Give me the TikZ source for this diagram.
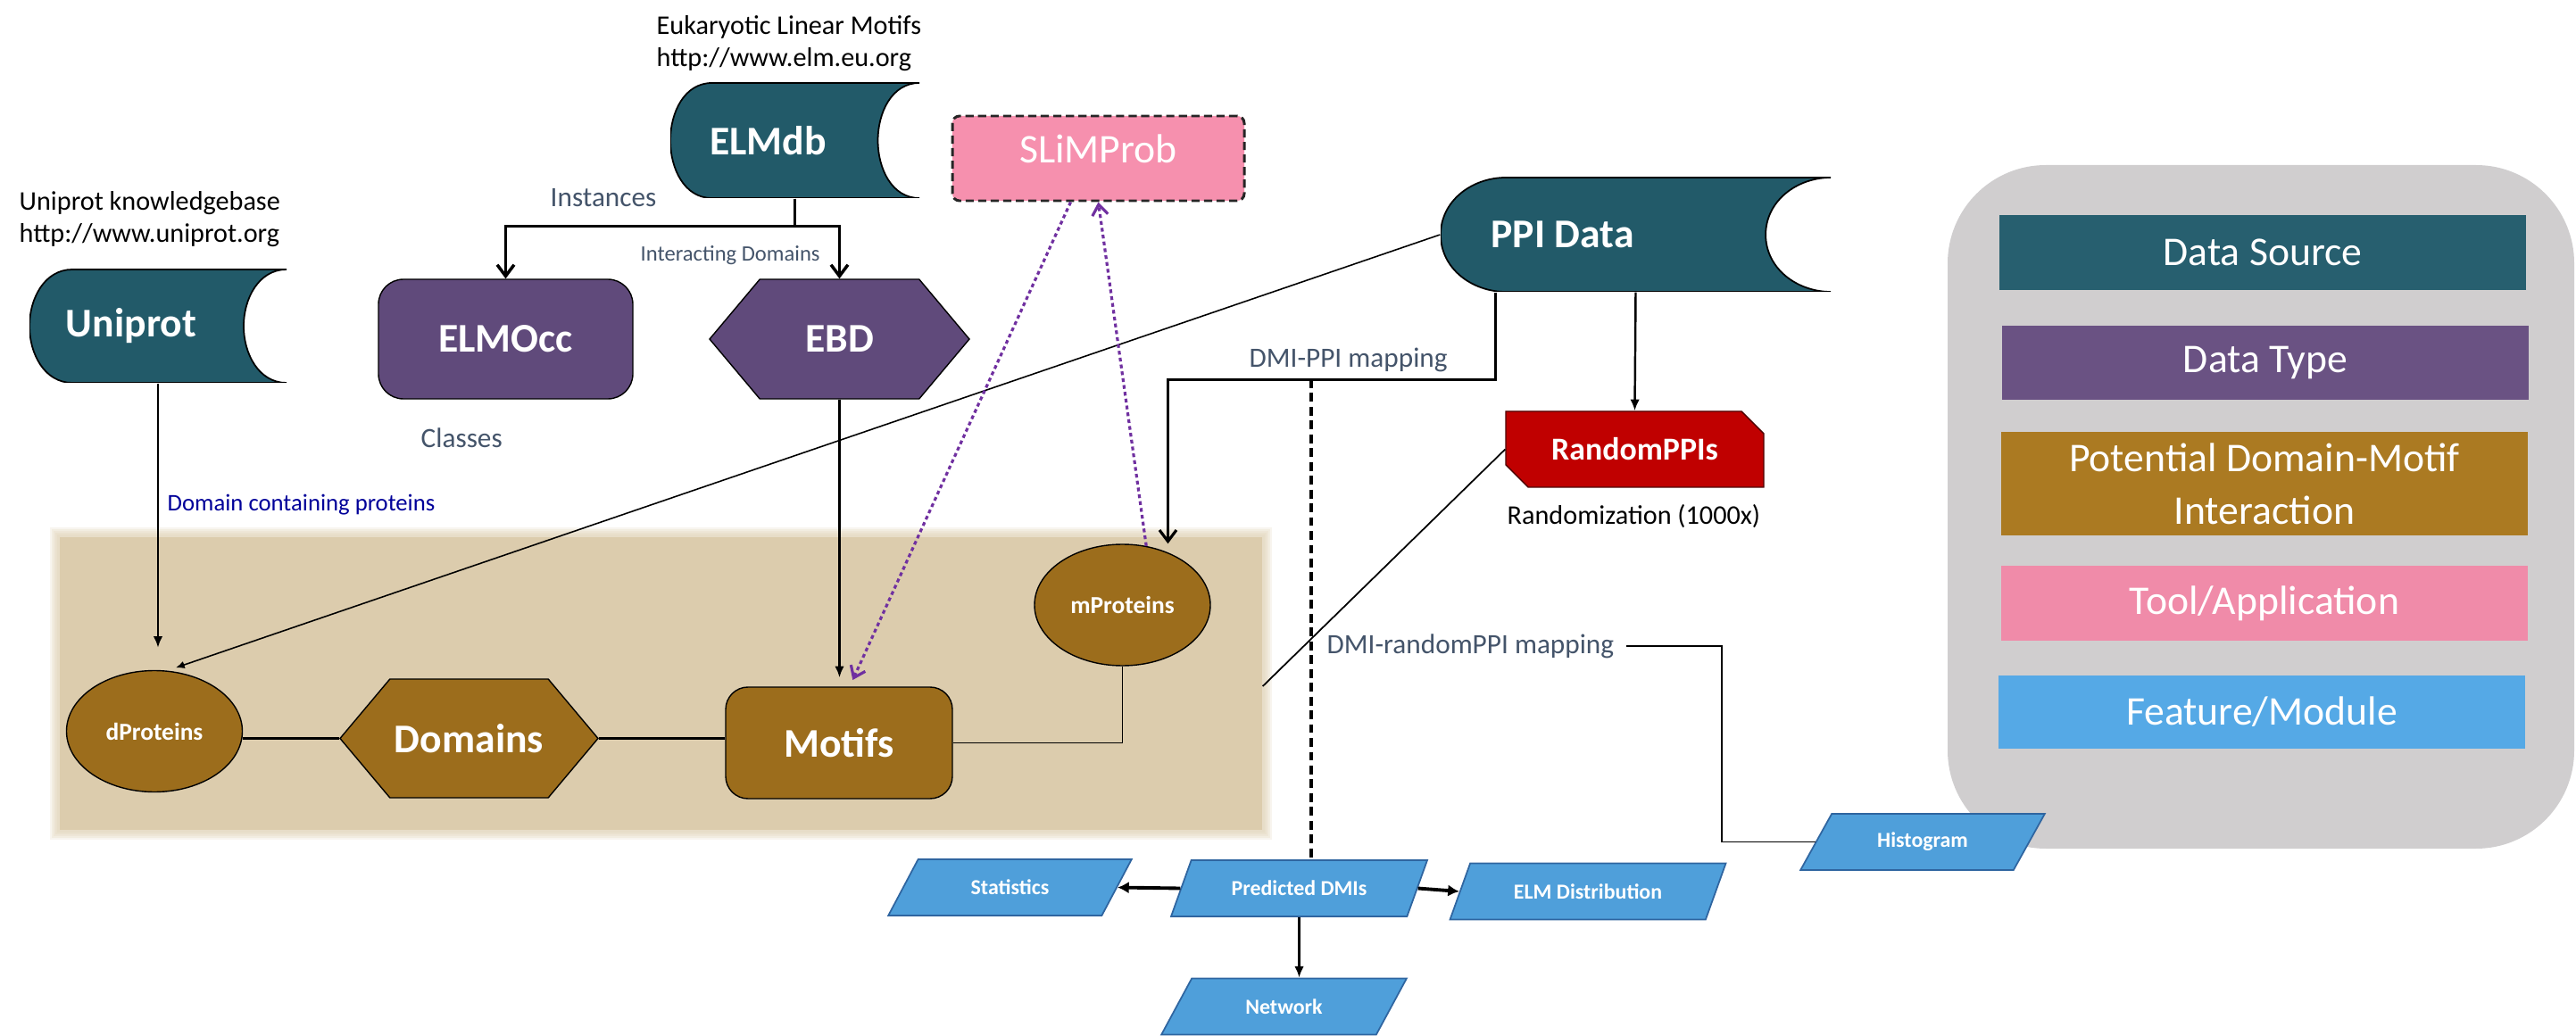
\documentclass[tikz,border=0pt]{standalone}
\usepackage{fontspec}
\setmainfont{Carlito}
\usetikzlibrary{arrows.meta,calc,shapes.geometric,shapes.misc,shapes.symbols}

\definecolor{srcteal}{HTML}{225A69}
\definecolor{typepurple}{HTML}{604A7B}
\definecolor{dmibrown}{HTML}{9C6D1C}
\definecolor{dmibeige}{HTML}{DCCCAD}
\definecolor{toolpink}{HTML}{F690AE}
\definecolor{featblue}{HTML}{4F9FDA}
\definecolor{featedge}{HTML}{2F65A0}
\definecolor{rndred}{HTML}{C00000}
\definecolor{notegray}{HTML}{44546A}
\definecolor{navytext}{HTML}{000099}
\definecolor{slimline}{HTML}{7030A0}
\definecolor{legendgray}{HTML}{D0CECF}
\definecolor{keyteal}{HTML}{275F6F}
\definecolor{keypurple}{HTML}{6A5283}
\definecolor{keybrown}{HTML}{AB7A22}
\definecolor{keypink}{HTML}{F08BA9}
\definecolor{keyblue}{HTML}{55A9E6}

\newcommand{\setfs}[2]{\fontsize{#1}{#2}\selectfont}
\newcommand{\ppbb}{path picture bounding box}

\tikzstyle{datasrc}=[rectangle, inner sep=0pt, path picture={
    \path[fill=srcteal, draw=black, line width=0.5pt]
      ($(\ppbb.north west)!0.1667!(\ppbb.north east)$) -- (\ppbb.north east)
      to[out=180,in=90] ($(\ppbb.east)!0.1667!(\ppbb.west)$)
      to[out=-90,in=180] (\ppbb.south east)
      -- ($(\ppbb.south west)!0.1667!(\ppbb.south east)$)
      to[out=180,in=-90] (\ppbb.west)
      to[out=90,in=180] ($(\ppbb.north west)!0.1667!(\ppbb.north east)$) -- cycle;}]
\tikzstyle{srctext}=[text=white, font=\bfseries\setfs{13}{15.6}]
\tikzstyle{dtypebox}=[rectangle, rounded corners=0.28cm, fill=typepurple, draw=black, line width=0.4pt,
    text=white, font=\bfseries\setfs{13}{15.6}, minimum width=2.85cm, minimum height=1.34cm, inner sep=0pt]
\tikzstyle{dtypehex}=[signal, signal to=west and east, signal pointer angle=100, fill=typepurple, draw=black,
    line width=0.4pt, text=white, font=\bfseries\setfs{13}{15.6}, minimum width=2.91cm, minimum height=1.34cm, inner sep=0pt]
\tikzstyle{pdmibox}=[rectangle, rounded corners=0.25cm, fill=dmibrown, draw=black, line width=0.4pt,
    text=white, font=\bfseries\setfs{13}{15.6}, minimum width=2.54cm, minimum height=1.25cm, inner sep=0pt]
\tikzstyle{pdmihex}=[signal, signal to=west and east, signal pointer angle=100, fill=dmibrown, draw=black,
    line width=0.4pt, text=white, font=\bfseries\setfs{13}{15.6}, minimum width=2.89cm, minimum height=1.33cm, inner sep=0pt]
\tikzstyle{pdmiell}=[ellipse, fill=dmibrown, draw=black, line width=0.4pt, text=white,
    font=\bfseries\setfs{7.8}{9.4}, minimum width=1.97cm, minimum height=1.36cm, inner sep=0pt]
\tikzstyle{toolbox}=[rectangle, rounded corners=0.08cm, fill=toolpink, draw=black!85, line width=0.85pt,
    dash pattern=on 2.6pt off 1.4pt, text=white, font=\setfs{13}{15.6}, minimum width=3.27cm,
    minimum height=0.95cm, text depth=0.22cm, inner sep=0pt]
\tikzstyle{rndbox}=[chamfered rectangle, chamfered rectangle corners={north east,south west},
    chamfered rectangle xsep=0.1cm, chamfered rectangle ysep=0.15cm, fill=rndred, draw=black!60!rndred,
    line width=0.4pt, text=white, font=\bfseries\setfs{10.2}{12}, minimum width=2.89cm,
    minimum height=0.85cm, inner sep=0pt]
\tikzstyle{featbox}=[trapezium, trapezium left angle=50, trapezium right angle=130, trapezium stretches=true,
    fill=featblue, draw=featedge, line width=0.5pt, text=white, font=\bfseries\setfs{6.8}{8},
    minimum height=0.63cm, inner sep=0pt]
\tikzstyle{keybar}=[rectangle, minimum width=5.9cm, inner sep=0pt, text=white, font=\setfs{13}{16.8}, align=center]
\tikzstyle{note}=[inner sep=0pt, anchor=base west, align=left]
\tikzstyle{barbtip}=[-{Straight Barb[length=3.6pt,width=5.4pt]}]
\tikzstyle{filltip}=[-{Latex[length=3.6pt,width=3pt]}]
\tikzstyle{slimarrow}=[slimline, line width=0.9pt, dash pattern=on 1.2pt off 1pt,
    -{Straight Barb[length=3.4pt,width=5pt]}]

\begin{document}
\begin{tikzpicture}
\useasboundingbox (0,0) rectangle (28.86,-11.61);

% legend
\node[rectangle, rounded corners=1.1cm, fill=legendgray, minimum width=7.02cm, minimum height=7.66cm] (legend) at (25.33,-5.68) {};
\node[keybar, fill=keyteal, minimum height=0.84cm] (keysrc) at (25.35,-2.83) {Data Source};
\node[keybar, fill=keypurple, minimum height=0.83cm] (keytype) at (25.38,-4.065) {Data Type};
\node[keybar, fill=keybrown, minimum height=1.16cm] (keypdmi) at (25.37,-5.42) {Potential Domain-Motif\\Interaction};
\node[keybar, fill=keypink, minimum height=0.84cm] (keytool) at (25.37,-6.76) {Tool/Application};
\node[keybar, fill=keyblue, minimum height=0.82cm] (keyfeat) at (25.34,-7.98) {Feature/Module};

% potential DMI region
\node[rectangle, fill=dmibeige, minimum width=13.47cm, minimum height=3.28cm, inner sep=0pt] (pdmi) at (7.405,-7.66) {};
\foreach \g in {1,...,5}
  \fill[dmibeige, opacity=0.2] ([shift={(-\g*0.02,\g*0.02)}]pdmi.north west) rectangle ([shift={(\g*0.02,-\g*0.02)}]pdmi.south east);

% data sources
\node[datasrc, minimum width=2.88cm, minimum height=1.27cm, label={[srctext, xshift=-3mm]center:Uniprot}] (uniprot) at (1.77,-3.655) {};
\node[datasrc, minimum width=2.79cm, minimum height=1.29cm, label={[srctext, xshift=-3mm]center:ELMdb}] (elmdb) at (8.905,-1.575) {};
\node[datasrc, minimum width=4.37cm, minimum height=1.28cm, label={[srctext, xshift=-8.2mm]center:PPI Data}] (ppi) at (18.325,-2.63) {};

\node[note, font=\setfs{8.6}{10.5}] (uninote) at (0.21,-2.72) {Uniprot knowledgebase\\http://www.uniprot.org};
\node[note, font=\setfs{8.6}{10.5}] (elmnote) at (7.35,-0.75) {Eukaryotic Linear Motifs\\http://www.elm.eu.org};

% data types
\node[dtypebox] (elmocc) at (5.665,-3.80) {ELMOcc};
\node[dtypehex] (ebd) at (9.405,-3.80) {EBD};
\node[note, text=notegray, font=\setfs{8.9}{10.7}] (inst) at (6.16,-2.32) {Instances};
\node[note, text=notegray, font=\setfs{7}{8.4}] (interdom) at (7.17,-2.93) {Interacting Domains};
\node[note, text=notegray, font=\setfs{8.9}{10.7}] (classes) at (4.71,-5.02) {Classes};
\node[note, text=navytext, font=\setfs{7.6}{9.1}] (domcont) at (1.87,-5.72) {Domain containing proteins};

% tool
\node[toolbox] (slim) at (12.305,-1.775) {SLiMProb};

% potential DMIs
\node[pdmiell] (dprot) at (1.73,-8.195) {dProteins};
\node[pdmihex] (domains) at (5.255,-8.275) {Domains};
\node[pdmibox] (motifs) at (9.40,-8.325) {Motifs};
\node[pdmiell] (mprot) at (12.575,-6.78) {mProteins};

% randomisation
\node[rndbox] (random) at (18.315,-5.035) {RandomPPIs};
\node[note, font=\setfs{8.6}{10.3}] (rndnote) at (16.88,-5.88) {Randomization (1000x)};
\node[note, text=notegray, font=\setfs{8.9}{10.7}] (dmippi) at (13.99,-4.12) {DMI-PPI mapping};
\node[note, text=notegray, font=\setfs{8.9}{10.7}] (rndmap) at (14.86,-7.32) {DMI-randomPPI mapping};

% features
\node[featbox, minimum width=2.73cm] (stats) at (11.315,-9.945) {Statistics};
\node[featbox, minimum width=2.87cm] (pred) at (14.555,-9.955) {Predicted DMIs};
\node[featbox, minimum width=3.10cm] (elmd) at (17.79,-9.99) {ELM Distribution};
\node[featbox, minimum width=2.75cm] (net) at (14.385,-11.28) {Network};
\node[featbox, minimum width=2.74cm] (hist) at (21.54,-9.435) {Histogram};

\coordinate (dmidrop) at (14.69,-4.25);
\coordinate (rndend) at ($(pdmi.east)+(0,-0.03)$);

% connectors
\draw[line width=1pt, barbtip] (elmdb.south) -- ++(0,-0.31) -| (elmocc.north);
\draw[line width=1pt, barbtip] (elmdb.south) -- ++(0,-0.31) -| (ebd.north);
\draw[line width=0.75pt, filltip, shorten >=0.25cm] (uniprot.south) -- (uniprot.south |- dprot.north);
\draw[line width=0.75pt, filltip, shorten >=0.1cm] (ebd.south) -- (ebd.south |- motifs.north);
\draw[line width=0.45pt, -{Latex[length=2.8pt,width=2.4pt]}, shorten >=0.1cm] (ppi.west) -- (dprot.78);
\draw[line width=0.9pt, barbtip] ([xshift=0.62cm]ppi.south west) -- ++(0,-0.98) -| ([xshift=0.51cm]mprot.north);
\draw[line width=0.9pt, dash pattern=on 2.8pt off 1.6pt] (dmidrop) -- (dmidrop |- pred.north);
\draw[line width=0.7pt, filltip] (ppi.south) -- (random.north);
\draw[line width=0.5pt] (random.west) -- (rndend);
\draw[line width=0.5pt] ([xshift=0.13cm]rndmap.east) -- ++(1.07,0) |- (hist.west);
\draw[line width=0.9pt] (dprot.east |- domains.west) -- (domains.west);
\draw[line width=0.9pt] (domains.east) -- (domains.east -| motifs.west);
\draw[line width=0.35pt] (motifs.east) -| (mprot.south);
\draw[slimarrow, shorten >=0.08cm] ([xshift=-0.31cm]slim.south) -- ([xshift=0.12cm]motifs.north);
\draw[slimarrow] (mprot.68) -- (slim.south);
\draw[line width=1.1pt, -{Latex[length=3.6pt,width=3.8pt]}] (pred.west) -- (stats.east);
\draw[line width=1.1pt, -{Latex[length=3.6pt,width=3.8pt]}] (pred.east) -- (elmd.west);
\draw[line width=0.7pt, filltip] (pred.south) -- (pred.south |- net.north);
\end{tikzpicture}
\end{document}
